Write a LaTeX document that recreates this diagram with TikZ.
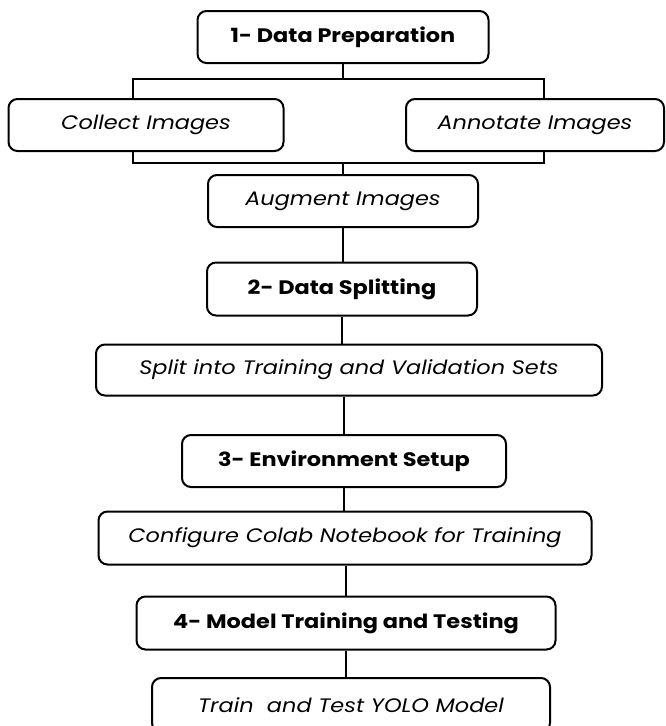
\documentclass[tikz,border=0pt]{standalone}
\usepackage{fontspec}
\setmainfont{Poppins}[FakeStretch=1.15]
\usepackage{tikz}

\tikzset{
  box/.style={draw, line width=2pt, rounded corners=9pt, align=center, inner sep=0pt},
  stage/.style={box, font=\fontsize{19.5}{23}\selectfont\bfseries},
  task/.style={box, font=\fontsize{19.5}{23}\selectfont\itshape},
  link/.style={line width=2pt}
}

\begin{document}
\begin{tikzpicture}[x=1pt, y=-1pt]
	\useasboundingbox (0,0) rectangle (666,726);

	% stage 1 and its three tasks
	\node[stage, minimum width=291pt, minimum height=52pt] (prep) at (343,37) {1- Data Preparation};
	\node[task, minimum width=275pt, minimum height=52pt] (collect) at (146,125) {Collect Images};
	\node[task, minimum width=258pt, minimum height=52pt] (annot) at (535,125) {Annotate Images};
	\node[task, minimum width=270pt, minimum height=52pt] (augment) at (343,201) {Augment Images};

	% stages 2 to 4
	\node[stage, minimum width=270pt, minimum height=53pt] (split) at (342,289) {2- Data Splitting};
	\node[task, minimum width=506pt, minimum height=51pt] (sets) at (349,370) {Split into Training and Validation Sets};
	\node[stage, minimum width=324pt, minimum height=52pt] (env) at (344,461) {3- Environment Setup};
	\node[task, minimum width=493pt, minimum height=53pt] (colab) at (345,538) {Configure Colab Notebook for Training};
	\node[stage, minimum width=419pt, minimum height=53pt] (model) at (346,623) {4- Model Training and Testing};
	\node[task, minimum width=398pt, minimum height=54pt] (train) at (351,705) {Train\ \ and Test YOLO Model};

	% branch bars around the first two tasks
	\coordinate (topL) at (133,79);
	\coordinate (topR) at (544,79);
	\coordinate (botL) at (133,163);
	\coordinate (botR) at (544,163);

	\draw[link] (prep.south) -- (prep.south |- topL);
	\draw[link] (topL |- collect.north) -- (topL) -- (topR) -- (topR |- annot.north);
	\draw[link] (botL |- collect.south) -- (botL) -- (botR) -- (botR |- annot.south);
	\draw[link] (augment.north) -- (augment.north |- botL);

	% straight links down the column
	\draw[link] (augment.south) -- (augment.south |- split.north);
	\draw[link] (split.south) -- (split.south |- sets.north);
	\draw[link] (sets.south -| env.north) -- (env.north);
	\draw[link] (env.south) -- (env.south |- colab.north);
	\draw[link] (colab.south -| model.north) -- (model.north);
	\draw[link] (model.south) -- (model.south |- train.north);
\end{tikzpicture}
\end{document}
